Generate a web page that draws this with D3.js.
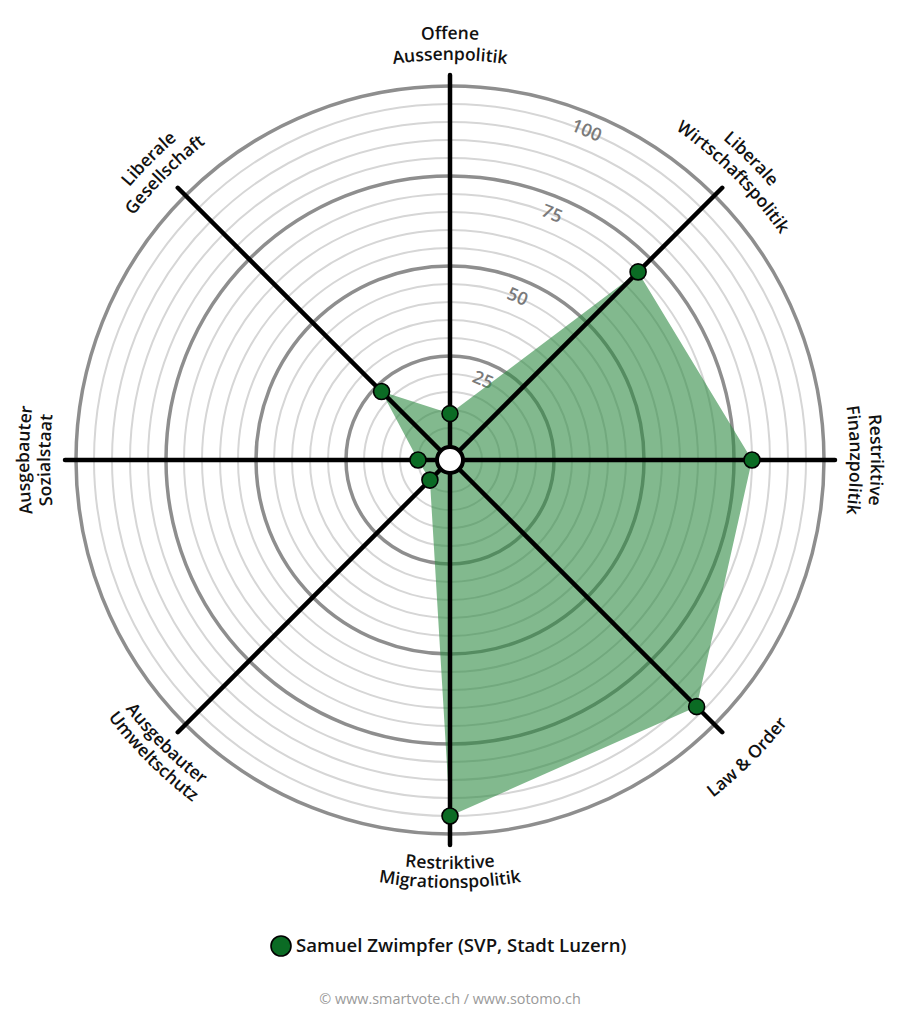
<!DOCTYPE html>
<html><head><meta charset="utf-8">
<script src="https://cdn.jsdelivr.net/npm/d3@7"></script>
<style>
html,body{margin:0;padding:0;background:#fff;}
svg{display:block;font-family:"Open Sans",Lato,sans-serif;}
</style></head>
<body><svg id="c" width="900" height="1024"></svg>
<script>
const categories = [
  ["Offene","Aussenpolitik"],
  ["Liberale","Wirtschaftspolitik"],
  ["Restriktive","Finanzpolitik"],
  ["Law & Order"],
  ["Restriktive","Migrationspolitik"],
  ["Ausgebauter","Umweltschutz"],
  ["Ausgebauter","Sozialstaat"],
  ["Liberale","Gesellschaft"]
];
const values = [9, 70, 80, 93, 95, 4, 5, 23];
const ringValues = d3.range(5, 101, 5);
const tickLabels = [25, 50, 75, 100];
const seriesName = "Samuel Zwimpfer (SVP, Stadt Luzern)";
const footer = "© www.smartvote.ch / www.sotomo.ch";

const cx = 450, cy = 460;
const svg = d3.select("#c");
const r = d3.scaleLinear().domain([0, 100]).range([14, 374]);
const ang = d3.scaleLinear().domain([0, categories.length]).range([0, 2 * Math.PI]);
const pt = (a, rad) => [cx + rad * Math.sin(a), cy - rad * Math.cos(a)];

// rings
svg.append("g").selectAll("circle").data(ringValues).join("circle")
  .attr("cx", cx).attr("cy", cy).attr("r", d => r(d))
  .attr("fill", "none")
  .attr("stroke", d => d % 25 === 0 ? "#8e8e8e" : "#d6d6d6")
  .attr("stroke-width", d => d % 25 === 0 ? 3.5 : 2);

// tick labels
const tAng = 22.5;
svg.append("g").selectAll("text").data(tickLabels).join("text")
  .attr("transform", d => {
    const p = pt(tAng * Math.PI / 180, r(d) - 17);
    return `translate(${p[0]},${p[1]}) rotate(${tAng})`;
  })
  .attr("text-anchor", "middle").attr("dy", "0.35em")
  .attr("fill", "#7a7a7a").attr("font-size", 18).attr("font-weight", 600)
  .text(d => d);

// polygon
const poly = values.map((v, i) => pt(ang(i), r(v)));
svg.append("path")
  .attr("d", d3.line()(poly) + "Z")
  .attr("fill", "rgba(46,139,67,0.6)");

// axes
svg.append("g").selectAll("line").data(categories).join("line")
  .attr("x1", cx).attr("y1", cy)
  .attr("x2", (d, i) => pt(ang(i), 385)[0])
  .attr("y2", (d, i) => pt(ang(i), 385)[1])
  .attr("stroke", "#000").attr("stroke-width", 4.5).attr("stroke-linecap", "round");

// center
svg.append("circle").attr("cx", cx).attr("cy", cy).attr("r", 13)
  .attr("fill", "#fff").attr("stroke", "#000").attr("stroke-width", 4);

// points
svg.append("g").selectAll("circle").data(values).join("circle")
  .attr("cx", (d, i) => pt(ang(i), r(d))[0])
  .attr("cy", (d, i) => pt(ang(i), r(d))[1])
  .attr("r", 8).attr("fill", "#0b6b24").attr("stroke", "#000").attr("stroke-width", 1.6);

// category labels along arcs
const defs = svg.append("defs");
const lab = svg.append("g");
categories.forEach((lines, i) => {
  const a = ang(i);
  const deg = a * 180 / Math.PI;
  const bottom = deg > 90.5 && deg < 269.5;
  const n = lines.length;
  lines.forEach((txt, j) => {
    let rad;
    if (!bottom) rad = 400 + (n - 1 - j) * 21;
    else rad = 428 - (n - 1 - j) * 19;
    const d1 = 89 * Math.PI / 180;
    let p0, p1, sweep;
    if (!bottom) { p0 = pt(a - d1, rad); p1 = pt(a + d1, rad); sweep = 1; }
    else { p0 = pt(a + d1, rad); p1 = pt(a - d1, rad); sweep = 0; }
    const id = `lp${i}_${j}`;
    defs.append("path").attr("id", id)
      .attr("d", `M${p0[0]},${p0[1]} A${rad},${rad} 0 0 ${sweep} ${p1[0]},${p1[1]}`);
    lab.append("text").attr("font-size", 17.5).attr("font-weight", 600).attr("fill", "#111")
      .append("textPath").attr("href", "#" + id)
      .attr("startOffset", "50%").attr("text-anchor", "middle").text(txt);
  });
});

// legend
const lg = svg.append("g");
lg.append("circle").attr("cx", 281).attr("cy", 946).attr("r", 10)
  .attr("fill", "#0b6b24").attr("stroke", "#000").attr("stroke-width", 1.6);
lg.append("text").attr("x", 296).attr("y", 952).attr("font-size", 18.6).attr("font-weight", 600)
  .attr("fill", "#111").text(seriesName);

svg.append("text").attr("x", 450).attr("y", 1004).attr("text-anchor", "middle")
  .attr("font-size", 14.4).attr("fill", "#9a9a9a").text(footer);
</script></body></html>
